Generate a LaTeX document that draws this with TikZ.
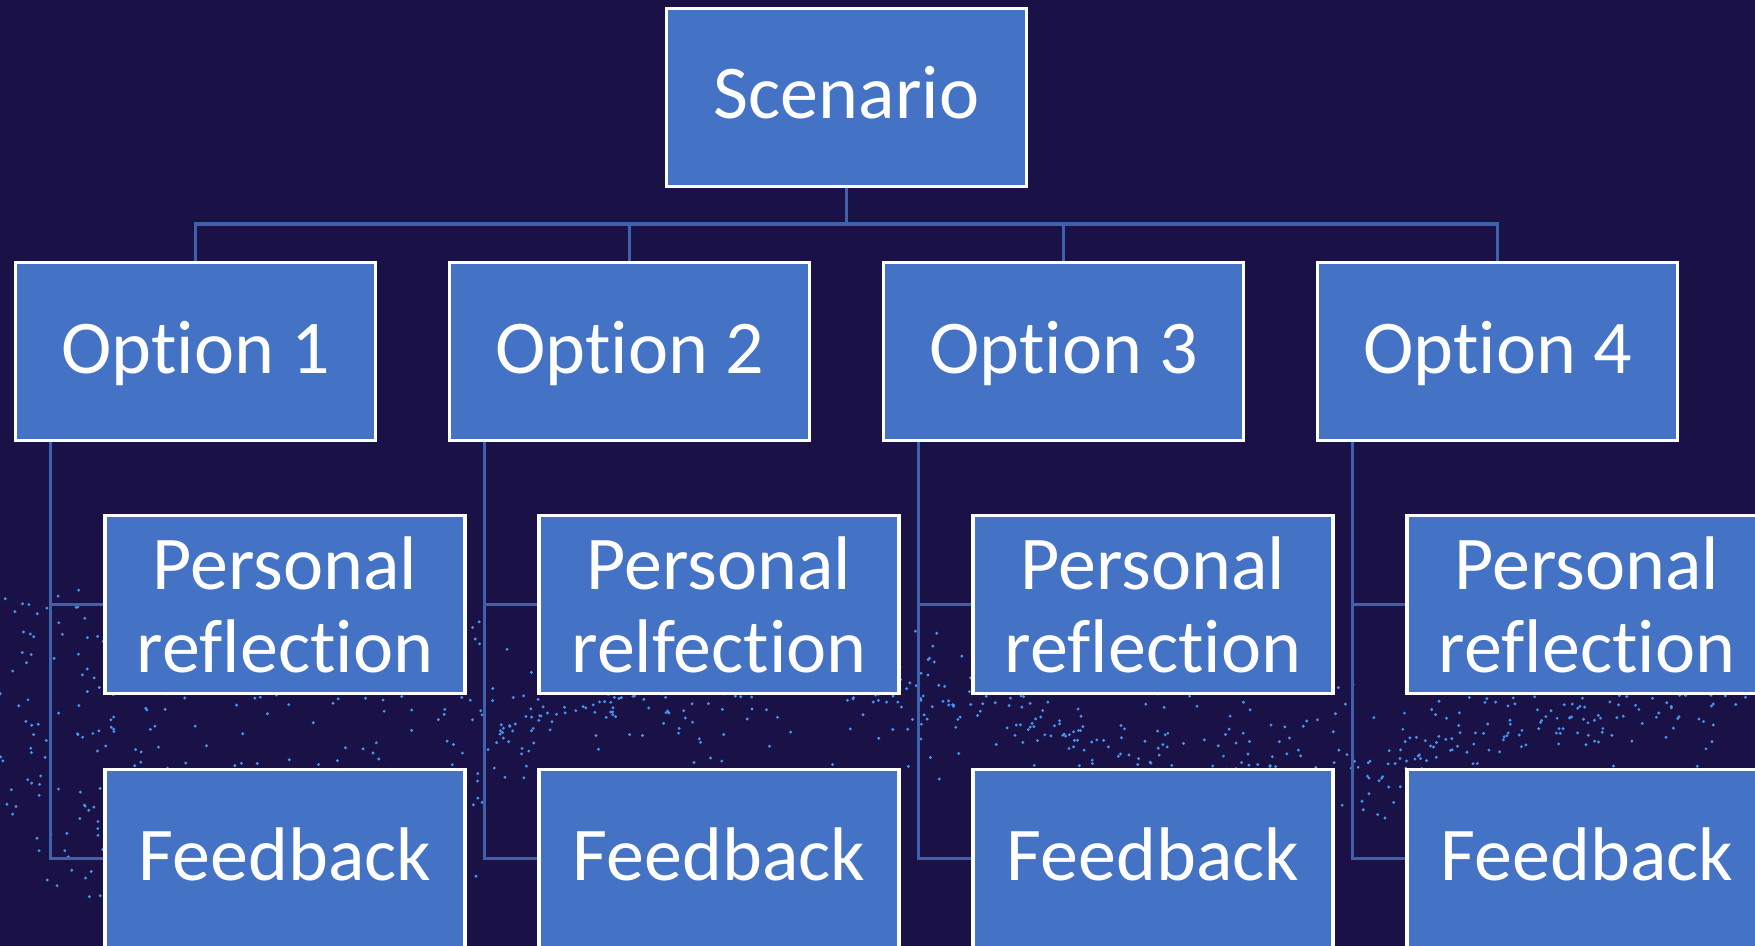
\documentclass[tikz,border=0pt]{standalone}
\usepackage{fontspec}
\setmainfont[Ligatures={NoCommon,NoContextual,NoRequired}]{Carlito}
\usetikzlibrary{backgrounds}
\definecolor{bgcol}{RGB}{26,18,70}
\definecolor{boxblue}{RGB}{68,114,196}
\definecolor{lineblue}{RGB}{63,96,170}
\definecolor{dotblue}{RGB}{70,150,240}
\begin{document}
\begin{tikzpicture}[x=0.5pt,y=-0.5pt,
  box/.style={draw=white, line width=1.6pt, fill=boxblue, minimum width=180pt,
    minimum height=89pt, inner sep=0pt, text=white,
    font=\fontsize{38}{41.5}\selectfont, align=center},
  onebox/.style={box, text height=24.5pt, text depth=3pt},
  conn/.style={draw=lineblue, line width=1.6pt},
  dot/.style={fill=dotblue}]
\useasboundingbox (0,0) rectangle (1755,946);
\begin{scope}[on background layer]
  \fill[bgcol] (0,0) rectangle (1755,946);
  \pgfmathsetseed{4242}
  \foreach \i in {1,...,340}{
    \pgfmathsetmacro\xx{rnd*480}
    \pgfmathsetmacro\yy{590+rnd*310}
    \fill[dot] (\xx,\yy) circle[radius=0.8pt];
  }
  \foreach \i in {1,...,700}{
    \pgfmathsetmacro\xx{480+rnd*1275}
    \pgfmathsetmacro\yy{725+45*sin(\xx*0.35)+(rnd-0.5)*(rnd)*200}
    \fill[dot] (\xx,\yy) circle[radius=0.8pt];
  }
\end{scope}
\node[onebox] (sc) at (846.5,97.5) {Scenario};
\foreach \k/\w in {1/reflection,2/relfection,3/reflection,4/reflection}{
  \pgfmathsetmacro\ox{195.5+434*(\k-1)}
  \pgfmathsetmacro\px{285+434*(\k-1)}
  \node[onebox] (o\k) at (\ox,351.5) {Option \k};
  \node[box] (p\k) at (\px,604.5) {Personal\\\w};
  \node[onebox] (f\k) at (\px,858.5) {Feedback};
}
\begin{scope}[on background layer]
  \coordinate (bus) at (sc.south |- 0,224);
  \draw[conn] (sc.south) -- (bus);
  \draw[conn] (o1.north) |- (bus) -| (o4.north);
  \draw[conn] (o2.north) -- (o2.north |- bus);
  \draw[conn] (o3.north) -- (o3.north |- bus);
  \foreach \k in {1,...,4}{
    \coordinate (t\k) at ([xshift=18.25pt]o\k.south west);
    \draw[conn] (t\k) |- (f\k.west);
    \draw[conn] (p\k.west) -- (p\k.west -| t\k);
  }
\end{scope}
\end{tikzpicture}
\end{document}
